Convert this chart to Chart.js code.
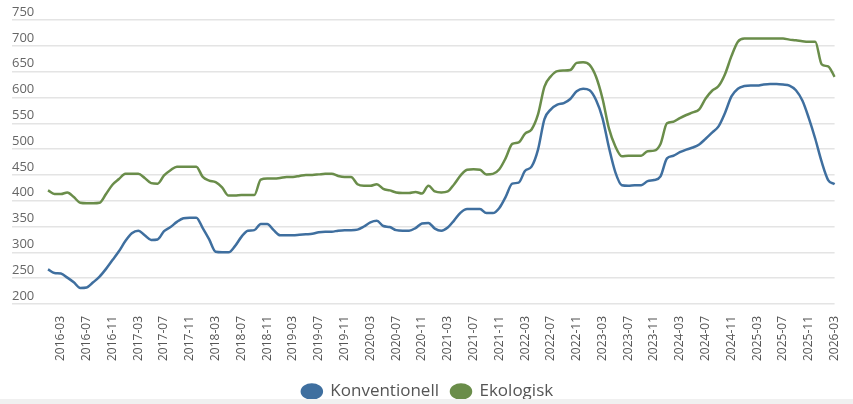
<!DOCTYPE html>
<html>
<head>
<meta charset="utf-8">
<script src="https://cdn.jsdelivr.net/npm/chart.js@4"></script>
<style>
  html, body { margin: 0; padding: 0; background: #fff; overflow: hidden; }
  #wrap { position: relative; width: 853px; height: 410px; background: #fff; }
  #strip { position: absolute; left: 0; top: 399px; width: 853px; height: 20px; background: #f0f0f0; }
</style>
</head>
<body>
<div id="wrap"><canvas id="lineChart"></canvas></div>
<div id="strip"></div>
<script>
// Months 2016-01 .. 2026-03
const months = [];
for (let y = 2016; y <= 2026; y++) {
  for (let m = 1; m <= 12; m++) {
    if (y === 2026 && m > 3) break;
    months.push(y + '-' + String(m).padStart(2, '0'));
  }
}

const yMin = 200;
const yMax = 750;
const yStep = 50;

const konventionell = [
  267, 260, 259, 251, 242, 231, 232, 242, 253, 268, 285, 302,
  322, 337, 342, 333, 324, 325, 341, 349, 359, 366, 367, 367,
  347, 325, 301, 300, 300, 312, 330, 342, 343, 355, 355, 343,
  333, 333, 333, 334, 335, 336, 339, 340, 340, 342, 343, 343,
  344, 350, 358, 361, 351, 349, 343, 342, 342, 347, 356, 357,
  346, 342, 348, 362, 377, 384, 384, 384, 376, 376, 386, 408,
  433, 435, 458, 466, 499, 558, 577, 586, 589, 597, 612, 617,
  614, 595, 560, 503, 455, 430, 429, 430, 430, 438, 440, 447,
  482, 487, 494, 499, 503, 509, 520, 532, 544, 570, 602, 617,
  622, 623, 623, 625, 626, 626, 625, 623, 614, 594, 560, 520,
  475, 440, 432
];

const ekologisk = [
  420, 413, 413, 416, 407, 396, 395, 395, 396, 413, 431, 442,
  452, 452, 452, 444, 434, 433, 449, 459, 466, 466, 466, 466,
  446, 439, 436, 426, 410, 410, 411, 411, 411, 441, 443, 443,
  444, 446, 446, 448, 450, 450, 451, 452, 452, 448, 446, 446,
  432, 429, 429, 432, 423, 420, 416, 415, 415, 417, 414, 429,
  418, 416, 418, 432, 449, 460, 461, 460, 451, 452, 461, 483,
  510, 513, 530, 538, 567, 621, 641, 651, 652, 653, 667, 668,
  663, 640, 598, 540, 505, 486, 487, 487, 487, 496, 497, 510,
  550, 553, 560, 566, 571, 577, 598, 613, 622, 645, 680, 708,
  714, 714, 714, 714, 714, 714, 714, 712, 711, 709, 708, 708,
  664, 660, 640
];

const ctx = document.getElementById('lineChart').getContext('2d');

new Chart(ctx, {
  type: 'line',
  data: {
    labels: months,
    datasets: [{
      label: 'Konventionell',
      data: konventionell,
      borderColor: '#3f6f9f',
      backgroundColor: '#3f6f9f',
      borderWidth: 2.5,
      pointRadius: 0,
      cubicInterpolationMode: 'monotone'
    }, {
      label: 'Ekologisk',
      data: ekologisk,
      borderColor: '#6a8d4a',
      backgroundColor: '#6a8d4a',
      borderWidth: 2.5,
      pointRadius: 0,
      cubicInterpolationMode: 'monotone'
    }]
  },
  options: {
    responsive: true,
    maintainAspectRatio: false,
    animation: false,
    layout: { padding: { left: 12, right: 10, top: 20, bottom: 0 } },
    plugins: {
      tooltip: { enabled: false },
      legend: {
        position: 'bottom',
        labels: {
          usePointStyle: true,
          pointStyle: 'circle',
          pointStyleWidth: 20,
          boxHeight: 10,
          padding: 12,
          color: '#555',
          font: { family: 'Open Sans', size: 17 }
        }
      }
    },
    scales: {
      x: {
        grid: { display: false },
        border: { display: false },
        afterFit: (axis) => { axis.height += 6; },
        ticks: {
          autoSkip: false,
          minRotation: 90,
          maxRotation: 90,
          padding: 4,
          color: '#555',
          font: { family: 'Open Sans', size: 12 },
          callback: (v, i) => (i % 4 === 2 ? months[i] : '')
        }
      },
      y: {
        min: yMin,
        max: yMax,
        border: { display: false },
        grid: { color: '#e4e4e4', lineWidth: 1.5, tickLength: 36 },
        afterFit: (axis) => { axis.width = 36; },
        ticks: {
          stepSize: yStep,
          crossAlign: 'far',
          padding: 0,
          labelOffset: -8,
          color: '#666',
          font: { family: 'Open Sans', size: 13 }
        }
      }
    }
  }
});
</script>
</body>
</html>
